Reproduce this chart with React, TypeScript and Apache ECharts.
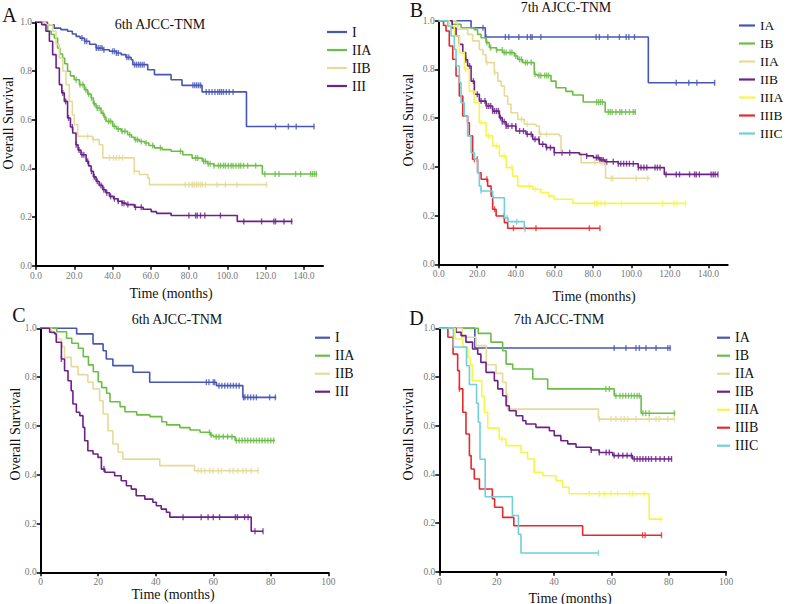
import React, { useEffect, useRef } from "react";
import * as echarts from "echarts";

// ---------- colours ----------
const BLUE = "#4656b4";
const GREEN = "#6cbd48";
const TAN = "#e6da98";
const PURPLE = "#6c2189";
const YELLOW = "#f6f64a";
const RED = "#e6292d";
const CYAN = "#70cfd9";

// ---------- tick labels ----------
const TICKS_AB = [0, 20, 40, 60, 80, 100, 120, 140];
const TICKS_CD = [0, 20, 40, 60, 80, 100];
const Y_TICKS = [0, 0.2, 0.4, 0.6, 0.8, 1.0];

// ---------- panel texts ----------
const PANEL_LETTERS = ["A", "B", "C", "D"];
const PANEL_TITLES = ["6th AJCC-TNM", "7th AJCC-TNM", "6th AJCC-TNM", "7th AJCC-TNM"];
const X_NAME = "Time (months)";
const Y_NAME = "Overall Survival";

// ---------- Panel A (6th, cohort 1): [time, survival] steps ----------
const A_I = [[0,1],[6,0.99],[9.5,0.976],[13,0.97],[16.5,0.963],[19,0.952],[21,0.942],[23,0.935],[25.3,0.922],[28,0.91],[31.4,0.894],[35,0.887],[38.4,0.881],[42,0.874],[44.5,0.867],[47,0.856],[49.7,0.846],[50.6,0.826],[58.4,0.805],[61.9,0.785],[70.6,0.764],[76.3,0.741],[86.8,0.714],[110,0.572],[145.5,0.572]];
const A_IIA = [[0,1],[4.3,0.99],[6.1,0.963],[8,0.95],[9.6,0.935],[11.3,0.894],[12.5,0.87],[13.9,0.853],[15,0.83],[16.5,0.799],[18,0.78],[20,0.764],[22.7,0.744],[25.3,0.723],[27,0.705],[28.8,0.689],[30,0.665],[31.4,0.648],[34,0.627],[35.5,0.61],[36.6,0.593],[40.1,0.573],[42,0.562],[44.5,0.552],[47.9,0.538],[50,0.528],[51.4,0.518],[54,0.51],[56.7,0.504],[59,0.494],[61.9,0.484],[66,0.477],[70.6,0.47],[76.7,0.456],[81.6,0.442],[86.9,0.429],[89.5,0.419],[92.9,0.411],[118.3,0.377],[147,0.377]];
const A_IIB = [[0,1],[5,0.99],[8.7,0.963],[10.5,0.91],[12.2,0.853],[14,0.8],[15.7,0.744],[17.4,0.675],[19,0.62],[20,0.579],[21.8,0.532],[29.6,0.518],[33,0.497],[34.9,0.443],[51.4,0.388],[54,0.375],[58.4,0.36],[59.3,0.333],[121,0.333]];
const A_III = [[0,1],[3,0.99],[5.2,0.963],[7,0.922],[8.7,0.867],[10.5,0.812],[12.2,0.744],[13.5,0.71],[14.8,0.675],[16.5,0.607],[18,0.57],[19.2,0.545],[20.9,0.497],[22,0.475],[23.5,0.456],[26.2,0.429],[27.5,0.41],[28.8,0.388],[30,0.365],[31.4,0.347],[33,0.33],[34.9,0.312],[36.5,0.3],[38.4,0.285],[40.5,0.275],[42.7,0.265],[45,0.257],[47.1,0.251],[51.4,0.24],[56,0.232],[60.2,0.222],[63,0.215],[70.6,0.206],[105.2,0.182],[134,0.182]];
const A_I_CENS = [24,25.5,26.5,31.5,32.5,33.5,34.5,35.5,40,41,42,43,47.5,48.5,51.5,52.5,53.5,54.5,55.5,56.5,82,83,84,85,86,89,90.5,92,93.5,95,96,97,98,99.5,101,103,125.2,131.9,136,145.3];
const A_IIA_CENS = [21,23,24.5,26,27.5,29,30.5,32,33,35,36,38,39,41,43,45,46.5,49,52,53,55,57.5,61,65,75.5,83.5,84.5,87.6,88.5,90,91,93,95.4,96.5,98,99,100.5,102,103,104.5,106,107,108.5,110.6,114.8,119.6,125,127,135.7,138.3,143.5,144.5,145.5,146.5];
const A_IIB_CENS = [27,30,38.4,40.5,42,43.5,45.2,51.4,78,80,81.5,82,83,84,85,86,87,88.6,94.7,99,105,120.5];
const A_III_CENS = [14,15.5,17,19,21,22.5,24,25,27,29,30.5,32,34,35.5,37,39,41,43,45,46,48,52,55,79.9,83.4,84.3,86,88.2,96.4,108.6,117.9,124.3,125.2,129.6,133.6];

// ---------- Panel B (7th, cohort 1) ----------
const B_IA = [[0,1],[16.8,0.971],[24.2,0.933],[108.8,0.745],[143.5,0.745]];
const B_IB = [[0,1],[7,0.985],[11.6,0.971],[18.5,0.963],[20.2,0.944],[22,0.93],[24.6,0.91],[26.3,0.889],[30,0.88],[33.2,0.869],[39.3,0.855],[41,0.841],[43.6,0.828],[49.6,0.78],[51,0.775],[58.3,0.752],[60.9,0.725],[66,0.71],[69.6,0.695],[75,0.666],[86.4,0.625],[102.4,0.625]];
const B_IIA = [[0,1],[9,0.99],[9.8,0.965],[15,0.944],[17.6,0.917],[21.1,0.882],[23,0.86],[24.6,0.828],[28.9,0.787],[30.7,0.752],[32.4,0.732],[34.1,0.691],[35.8,0.657],[37.5,0.622],[41,0.595],[44.5,0.575],[50.5,0.568],[52.2,0.534],[62.6,0.527],[63.5,0.458],[73.9,0.417],[86.6,0.353],[109.7,0.353]];
const B_IIB = [[0,1],[7,0.97],[9,0.937],[10.7,0.903],[12.5,0.869],[14,0.84],[15,0.814],[16.8,0.752],[18.5,0.698],[21.1,0.67],[24.6,0.65],[28,0.629],[31.5,0.602],[33,0.585],[35,0.568],[40.1,0.547],[45.3,0.534],[48.8,0.513],[52.2,0.493],[55.7,0.479],[60,0.458],[73,0.451],[76.8,0.445],[80.3,0.438],[83.7,0.428],[86.3,0.421],[93.2,0.413],[103.6,0.397],[117.1,0.369],[145,0.369]];
const B_IIIA = [[0,1],[5.5,0.978],[8.1,0.937],[10.7,0.869],[13.3,0.8],[15.9,0.711],[18.5,0.663],[21.1,0.581],[24.6,0.527],[28,0.486],[31.5,0.445],[35,0.397],[38.4,0.362],[41,0.321],[48.8,0.308],[53,0.295],[57,0.28],[60,0.267],[69.6,0.25],[128.5,0.25]];
const B_IIIB = [[0,1],[2.5,0.98],[3.8,0.958],[5.5,0.896],[7.3,0.842],[9,0.773],[10.7,0.691],[12.5,0.609],[15,0.581],[15.9,0.527],[17.6,0.431],[20.2,0.376],[22,0.349],[25.4,0.321],[27.2,0.28],[28,0.226],[29.8,0.198],[34.1,0.171],[35.8,0.148],[83.7,0.148]];
const B_IIIC = [[0,1],[4.7,0.978],[6.4,0.937],[8.1,0.883],[9,0.814],[10.7,0.746],[11.6,0.663],[13.3,0.609],[15,0.527],[16.8,0.458],[18.5,0.431],[20.2,0.376],[21.1,0.321],[22,0.301],[28,0.273],[34.1,0.19],[36,0.175],[44.4,0.144],[45,0.144]];
const B_IA_CENS = [23,24.5,34.6,36.4,41.6,46,47.7,48.5,53,81.7,83.4,87.8,93.8,97.3,98.7,101.6,123.3,129.8,134,143.2];
const B_IB_CENS = [25,27,30,33,34,35,37,38,40,42,43,45,46,48,50,52,53,55,56,57,82,83,84,85,88,89,90,92,94,95,97,99,101,102];
const B_IIA_CENS = [25,29,43,46,53,56,81,85,89.5,90.3,102.5,108.5];
const B_IIB_CENS = [14,16,18,20,22,24,25,26,27,28,29,30,31,32,33,34,35,36,38,40,42,44,46,48,50,52,54,56,58,60,64,68,76.8,81.9,82.8,83.7,84.6,85.4,86.3,87.2,90.6,93.2,94.5,96,97.5,99,101,103.6,105,106.5,108,112.3,113.5,114.9,118,123.3,125,130.2,132.8,133.7,135.3,141.4,142.5,143.5,144.9];
const B_IIIA_CENS = [14,18,22,26,30,34,38,47,50,81,82,82.6,84.3,86.3,94.9,116.3,122,123.6,128.1];
const B_IIIB_CENS = [18.5,20,25,29,34,38.8,50.5,78.2,83.7];
const B_IIIC_CENS = [22,35.6,40.5,44.8];

// ---------- Panel C (6th, cohort 2) ----------
const C_I = [[0,1],[12.5,0.977],[18.2,0.936],[21.7,0.908],[22.8,0.874],[25.1,0.847],[32.1,0.82],[37.9,0.779],[61.1,0.765],[70.3,0.717],[81.9,0.717]];
const C_IIA = [[0,1],[5.6,0.986],[9,0.959],[10.8,0.939],[13.1,0.918],[14.8,0.884],[16.6,0.85],[18.3,0.822],[20,0.781],[21.2,0.757],[22.9,0.734],[24.1,0.699],[27.6,0.679],[29.3,0.658],[33.4,0.645],[38,0.638],[42.1,0.617],[43.8,0.604],[48.4,0.593],[51.9,0.583],[55.4,0.574],[58.9,0.563],[60,0.556],[67.6,0.54],[81.5,0.54]];
const C_IIB = [[0,1],[3.7,0.98],[5.6,0.956],[7.3,0.925],[8.3,0.881],[10.6,0.843],[13,0.81],[16.4,0.779],[18.2,0.751],[20.5,0.703],[21.7,0.649],[23.4,0.58],[25.1,0.526],[26.9,0.492],[28.6,0.464],[41.4,0.437],[53.5,0.416],[75.6,0.416]];
const C_III = [[0,1],[3.1,0.984],[4.9,0.977],[5.4,0.943],[7.2,0.874],[8.3,0.826],[9.5,0.785],[10.6,0.744],[11.2,0.69],[12.4,0.656],[13.6,0.642],[14.7,0.594],[15.3,0.539],[16.4,0.498],[18.2,0.485],[19.9,0.471],[21.1,0.423],[22.3,0.41],[25.7,0.396],[28,0.375],[29.8,0.355],[31.5,0.341],[33.2,0.314],[36.2,0.3],[39,0.287],[40.2,0.273],[41.9,0.259],[43.7,0.246],[44.9,0.226],[73.2,0.168],[77.3,0.168]];
const C_I_CENS = [57.6,58.5,60,60.5,62,63,64,65,66,67,68,69,70.5,71,72,73,74,75,79.6,81.6];
const C_IIA_CENS = [58.7,59.3,61,62,63.5,65,66.5,68,69,70,71,72,73,74,75,76,77,78,79,80,81];
const C_IIB_CENS = [54.7,55.8,57,58.8,59.9,61.7,62.8,65.7,66.9,68.6,70.3,71.5,73.2,75.6];
const C_III_CENS = [7.2,22,49.5,55.8,58.2,60,62.2,67.7,68.4,70.9,72.1,74.5,77.3];

// ---------- Panel D (7th, cohort 2) ----------
const D_IA = [[0,1],[12.4,0.919],[80.8,0.919]];
const D_IB = [[0,1],[13.6,0.979],[18,0.943],[22.1,0.908],[23.3,0.853],[25.6,0.833],[32.6,0.792],[37.8,0.751],[61,0.723],[70.4,0.651],[82.3,0.651]];
const D_IIA = [[0,1],[8,0.963],[12.8,0.929],[16.4,0.85],[19.8,0.815],[22.1,0.778],[23.3,0.73],[23.8,0.668],[55.5,0.627],[82,0.627]];
const D_IIB = [[0,1],[5.8,0.984],[7.6,0.97],[9.3,0.943],[11.6,0.915],[13.4,0.894],[14.5,0.86],[16.3,0.819],[19.2,0.785],[20.4,0.751],[22.1,0.723],[23.3,0.682],[24.4,0.661],[26.8,0.641],[29.1,0.62],[30.2,0.607],[33.7,0.593],[38.4,0.579],[40.1,0.559],[42.4,0.538],[44.8,0.525],[47.7,0.511],[52.9,0.5],[55.8,0.49],[60.5,0.477],[67.4,0.463],[81.2,0.463]];
const D_IIIA = [[0,1],[5.5,0.956],[8.2,0.922],[10,0.88],[10.8,0.85],[11.5,0.785],[14.8,0.72],[15.7,0.655],[16.9,0.59],[20.9,0.545],[23.3,0.518],[28.5,0.49],[30.8,0.463],[33.1,0.408],[36.1,0.394],[40.7,0.374],[43,0.347],[45.3,0.32],[73.2,0.216],[77.9,0.216]];
const D_IIIB = [[0,1],[3,0.963],[4.8,0.894],[6.4,0.826],[7,0.751],[8.2,0.655],[9.3,0.566],[10.5,0.477],[11.1,0.422],[12.2,0.381],[14,0.34],[18.5,0.3],[19.3,0.265],[22.1,0.223],[26,0.189],[50,0.15],[77.5,0.15]];
const D_IIIC = [[0,1],[4.9,0.923],[9.5,0.846],[10.5,0.769],[13,0.692],[13.6,0.615],[14.2,0.462],[16,0.308],[25.5,0.231],[27.6,0.154],[28.5,0.077],[55.5,0.077]];
const D_IA_CENS = [61,65.1,68.6,69.8,72.1,75.6,79.7,80.5];
const D_IB_CENS = [58.1,59.3,61.6,63,64,65,66,67,68,69,69.8,71,72,73.2,82];
const D_IIA_CENS = [55.8,59.9,61.6,63.4,64.5,65.7,68.6,73.2,75.6,76.7,79.7,82];
const D_IIB_CENS = [53,55.8,58.2,59.3,61,62.5,64,65.5,67,68,69,70,71,72,73,74,75.5,77,78.5,80,81];
const D_IIIA_CENS = [21.8,52.3,55.8,57.6,59.9,62.2,66.3,67.5,71.5,77.3];
const D_IIIB_CENS = [7,70.9,71.8,77.5];
const D_IIIC_CENS = [55.5];

const SERIF = "'Liberation Serif', 'Times New Roman', serif";

type Curve = { name: string; color: string; steps: number[][]; cens: number[] };

const PANELS: { curves: Curve[]; max: number; ticks: number[]; decimals: boolean }[] = [
  {
    max: 150, ticks: TICKS_AB, decimals: true,
    curves: [
      { name: "I", color: BLUE, steps: A_I, cens: A_I_CENS },
      { name: "IIA", color: GREEN, steps: A_IIA, cens: A_IIA_CENS },
      { name: "IIB", color: TAN, steps: A_IIB, cens: A_IIB_CENS },
      { name: "III", color: PURPLE, steps: A_III, cens: A_III_CENS },
    ],
  },
  {
    max: 150, ticks: TICKS_AB, decimals: true,
    curves: [
      { name: "IA", color: BLUE, steps: B_IA, cens: B_IA_CENS },
      { name: "IB", color: GREEN, steps: B_IB, cens: B_IB_CENS },
      { name: "IIA", color: TAN, steps: B_IIA, cens: B_IIA_CENS },
      { name: "IIB", color: PURPLE, steps: B_IIB, cens: B_IIB_CENS },
      { name: "IIIA", color: YELLOW, steps: B_IIIA, cens: B_IIIA_CENS },
      { name: "IIIB", color: RED, steps: B_IIIB, cens: B_IIIB_CENS },
      { name: "IIIC", color: CYAN, steps: B_IIIC, cens: B_IIIC_CENS },
    ],
  },
  {
    max: 100, ticks: TICKS_CD, decimals: false,
    curves: [
      { name: "I", color: BLUE, steps: C_I, cens: C_I_CENS },
      { name: "IIA", color: GREEN, steps: C_IIA, cens: C_IIA_CENS },
      { name: "IIB", color: TAN, steps: C_IIB, cens: C_IIB_CENS },
      { name: "III", color: PURPLE, steps: C_III, cens: C_III_CENS },
    ],
  },
  {
    max: 100, ticks: TICKS_CD, decimals: false,
    curves: [
      { name: "IA", color: BLUE, steps: D_IA, cens: D_IA_CENS },
      { name: "IB", color: GREEN, steps: D_IB, cens: D_IB_CENS },
      { name: "IIA", color: TAN, steps: D_IIA, cens: D_IIA_CENS },
      { name: "IIB", color: PURPLE, steps: D_IIB, cens: D_IIB_CENS },
      { name: "IIIA", color: YELLOW, steps: D_IIIA, cens: D_IIIA_CENS },
      { name: "IIIB", color: RED, steps: D_IIIB, cens: D_IIIB_CENS },
      { name: "IIIC", color: CYAN, steps: D_IIIC, cens: D_IIIC_CENS },
    ],
  },
];

// layout (pixels)
const GRIDS = [
  { left: 36, top: 22.3, width: 287, height: 243.4 },
  { left: 438.7, top: 20.7, width: 289, height: 243.6 },
  { left: 40.7, top: 328.3, width: 287.6, height: 244 },
  { left: 439.3, top: 328.3, width: 286.7, height: 243.4 },
];
const LEGEND_POS = [
  { left: 327, top: 25, w: 20, fs: 14 },
  { left: 739, top: 18.5, w: 16, fs: 13.5 },
  { left: 315, top: 330.7, w: 15, fs: 14 },
  { left: 717, top: 330.7, w: 13, fs: 14 },
];
const LETTER_POS = [[9.5, 14.5], [416.5, 10], [19, 315], [416.5, 318]];
const TITLE_POS = [[160, 24], [566, 7.5], [177, 319], [559, 319]];
const XNAME_POS = [[171, 293], [594, 296], [173, 594], [570, 598]];
const YNAME_POS = [[8, 123], [408, 120], [15, 434], [408, 434]];

function survivalAt(steps: number[][], t: number) {
  let s = steps[0][1];
  for (const [x, y] of steps) {
    if (x <= t) s = y;
    else break;
  }
  return s;
}

export default function App() {
  const ref = useRef<HTMLDivElement>(null);
  useEffect(() => {
    if (!ref.current) return;
    const chart = echarts.init(ref.current, undefined, { renderer: "svg" });

    const series: any[] = [];
    const legends: any[] = [];
    PANELS.forEach((p, i) => {
      p.curves.forEach((c) => {
        series.push({
          type: "line",
          name: c.name,
          xAxisIndex: i,
          yAxisIndex: i,
          data: c.steps,
          step: "end",
          symbol: "none",
          clip: false,
          lineStyle: { color: c.color, width: 1.6 },
          itemStyle: { color: c.color },
          silent: true,
        });
        series.push({
          type: "scatter",
          name: c.name,
          xAxisIndex: i,
          yAxisIndex: i,
          data: c.cens.map((t) => [t, survivalAt(c.steps, t)]),
          symbol: "rect",
          symbolSize: [1.4, 6],
          itemStyle: { color: c.color },
          silent: true,
        });
      });
      const lp = LEGEND_POS[i];
      legends.push({
        left: lp.left,
        top: lp.top,
        padding: 0,
        orient: "vertical",
        icon: "rect",
        itemWidth: lp.w,
        itemHeight: 2.2,
        itemGap: 4,
        selectedMode: false,
        textStyle: { fontFamily: SERIF, fontSize: lp.fs, color: "#111", lineHeight: 14 },
        data: p.curves.map((c) => ({ name: c.name, itemStyle: { color: c.color } })),
      });
    });

    const grids = GRIDS.map((g) => ({ ...g, containLabel: false }));
    const xAxes = PANELS.map((p, i) => ({
      type: "value",
      gridIndex: i,
      min: 0,
      max: p.max,
      interval: 20,
      axisLine: { show: true, onZero: false, lineStyle: { color: "#000", width: 2 } },
      axisTick: { show: true, length: 4, lineStyle: { color: "#000", width: 1.5 }, customValues: p.ticks },
      axisLabel: {
        customValues: p.ticks,
        formatter: (v: number) => (v > p.ticks[p.ticks.length - 1] ? "" : p.decimals ? v.toFixed(1) : String(v)),
        fontFamily: SERIF,
        fontSize: 9.5,
        color: "#777",
        margin: 5,
      },
      splitLine: { show: false },
    }));
    const yAxes = PANELS.map((_, i) => ({
      type: "value",
      gridIndex: i,
      min: Y_TICKS[0],
      max: Y_TICKS[Y_TICKS.length - 1],
      interval: 0.2,
      axisLine: { show: true, onZero: false, lineStyle: { color: "#000", width: 2 } },
      axisTick: { show: true, length: 4, lineStyle: { color: "#000", width: 1.5 } },
      axisLabel: {
        formatter: (v: number) => v.toFixed(1),
        fontFamily: SERIF,
        fontSize: 9.5,
        color: "#777",
        margin: 4,
      },
      splitLine: { show: false },
    }));

    const graphics: any[] = [];
    PANEL_LETTERS.forEach((L, i) => {
      graphics.push({
        type: "text", x: LETTER_POS[i][0], y: LETTER_POS[i][1],
        style: { text: L, font: `20px ${SERIF}`, fill: "#111", textAlign: "center", textVerticalAlign: "middle" },
      });
      graphics.push({
        type: "text", x: TITLE_POS[i][0], y: TITLE_POS[i][1],
        style: { text: PANEL_TITLES[i], font: `14px ${SERIF}`, fill: "#111", textAlign: "center", textVerticalAlign: "middle" },
      });
      graphics.push({
        type: "text", x: XNAME_POS[i][0], y: XNAME_POS[i][1],
        style: { text: X_NAME, font: `14px ${SERIF}`, fill: "#111", textAlign: "center", textVerticalAlign: "middle" },
      });
      graphics.push({
        type: "text", x: YNAME_POS[i][0], y: YNAME_POS[i][1], rotation: Math.PI / 2,
        style: { text: Y_NAME, font: `14px ${SERIF}`, fill: "#111", textAlign: "center", textVerticalAlign: "middle" },
      });
    });

    chart.setOption({
      animation: false,
      backgroundColor: "#fff",
      grid: grids,
      xAxis: xAxes,
      yAxis: yAxes,
      legend: legends,
      series,
      graphic: { elements: graphics },
    });
    return () => chart.dispose();
  }, []);
  return (
    <div
      ref={ref}
      style={{ position: "absolute", left: 0, top: 0, width: 787, height: 604, background: "#fff" }}
    />
  );
}
